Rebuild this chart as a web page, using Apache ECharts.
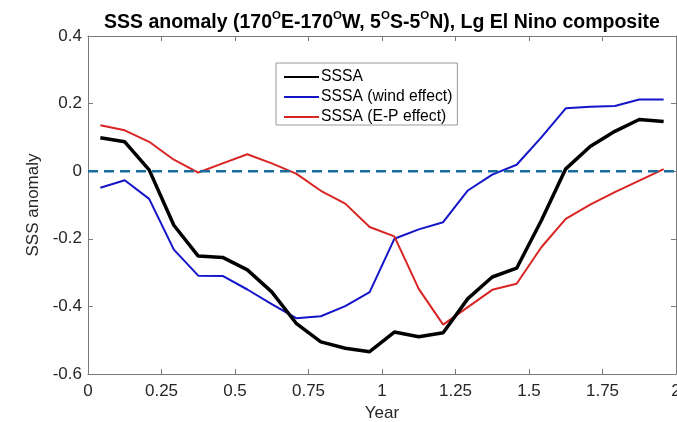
<!DOCTYPE html>
<html>
<head>
<meta charset="utf-8">
<script src="https://cdn.jsdelivr.net/npm/echarts@6/dist/echarts.min.js"></script>
<style>
  html, body { margin: 0; padding: 0; background: #fff; }
  #chart { width: 677px; height: 422px; }
</style>
</head>
<body>
<div id="chart"></div>
<script>
// Monthly composite, time in years since onset (mid-month)
const years = [0.042, 0.125, 0.208, 0.292, 0.375, 0.458, 0.542, 0.625, 0.708, 0.792, 0.875, 0.958,
               1.042, 1.125, 1.208, 1.292, 1.375, 1.458, 1.542, 1.625, 1.708, 1.792, 1.875, 1.958];

// Total SSS anomaly
const sssa = [0.099, 0.087, 0.004, -0.160, -0.251, -0.255, -0.292, -0.357, -0.450, -0.505, -0.524, -0.534,
              -0.476, -0.490, -0.478, -0.377, -0.313, -0.287, -0.146, 0.007, 0.073, 0.118, 0.153, 0.147];

// Contribution from wind-driven processes
const windEffect = [-0.049, -0.027, -0.082, -0.232, -0.309, -0.310, -0.350, -0.393, -0.435, -0.429, -0.399, -0.358,
                    -0.200, -0.172, -0.151, -0.057, -0.010, 0.019, 0.100, 0.186, 0.191, 0.193, 0.212, 0.212];

// Contribution from evaporation minus precipitation
const epEffect = [0.136, 0.121, 0.087, 0.034, -0.004, 0.023, 0.050, 0.023, -0.007, -0.058, -0.096, -0.165,
                  -0.193, -0.348, -0.454, -0.402, -0.351, -0.333, -0.225, -0.141, -0.099, -0.062, -0.028, 0.006];

const seriesNames = ['SSSA', 'SSSA (wind effect)', 'SSSA (E-P effect)'];
const zeroLine = [[0, 0], [2, 0]];

const xRange = { min: 0, max: 2, interval: 0.25 };
const yRange = { min: -0.6, max: 0.4, interval: 0.2 };

const pair = (xs, ys) => xs.map((x, i) => [x, ys[i]]);

const axisGray = '#7a7a7a';
const labelColor = '#262626';
const fontFamily = '"Liberation Sans", Arial, Helvetica, sans-serif';

const chart = echarts.init(document.getElementById('chart'), null, { renderer: 'canvas' });

// Shared style for the boxed axes (ticks point inward on every side)
const boxAxis = (extra) => Object.assign({
  type: 'value',
  axisLine: { show: true, onZero: false, lineStyle: { color: axisGray, width: 1 } },
  axisTick: { show: true, inside: true, length: 5, lineStyle: { color: axisGray } },
  splitLine: { show: false }
}, extra);

chart.setOption({
  animation: false,
  backgroundColor: '#fff',
  title: {
    text: 'SSS anomaly (170{s|O}E-170{s|O}W, 5{s|O}S-5{s|O}N), Lg El Nino composite',
    left: 104,
    top: 5,
    padding: [5, 0, 5, 0],
    textStyle: {
      fontFamily: fontFamily,
      fontSize: 19.5,
      fontWeight: 'bold',
      color: '#000',
      lineHeight: 26,
      rich: {
        s: { fontSize: 11.5, fontWeight: 'bold', fontFamily: fontFamily, color: '#000', verticalAlign: 'top', lineHeight: 14 }
      }
    }
  },
  grid: { left: 88, right: 1, top: 36, bottom: 48, containLabel: false, outerBoundsMode: 'none' },
  legend: {
    data: seriesNames,
    orient: 'vertical',
    left: 276,
    top: 63,
    padding: [6, 5, 0, 7],
    itemWidth: 35,
    itemHeight: 14,
    itemGap: 4,
    borderColor: '#9a9a9a',
    borderWidth: 1,
    backgroundColor: '#fff',
    itemStyle: { opacity: 0 },
    textStyle: { fontFamily: fontFamily, fontSize: 15.7, lineHeight: 16, color: '#000', padding: [0, 0, 0, -3] }
  },
  xAxis: [
    boxAxis(Object.assign({
      position: 'bottom',
      name: 'Year',
      nameLocation: 'middle',
      nameGap: 27,
      nameTextStyle: { fontFamily: fontFamily, fontSize: 17, color: labelColor },
      axisLabel: { show: true, margin: 9, fontFamily: fontFamily, fontSize: 17, color: labelColor,
                   showMinLabel: true, showMaxLabel: true }
    }, xRange)),
    boxAxis(Object.assign({ position: 'top', axisLabel: { show: false } }, xRange))
  ],
  yAxis: [
    boxAxis(Object.assign({
      position: 'left',
      name: 'SSS anomaly',
      nameLocation: 'middle',
      nameGap: 42,
      nameRotate: 90,
      nameTextStyle: { fontFamily: fontFamily, fontSize: 17, color: labelColor },
      axisLabel: { show: true, margin: 6, fontFamily: fontFamily, fontSize: 17, color: labelColor }
    }, yRange)),
    boxAxis(Object.assign({ position: 'right', axisLabel: { show: false } }, yRange))
  ],
  series: [
    {
      name: seriesNames[0], type: 'line', data: pair(years, sssa),
      symbol: 'none', color: '#000', lineStyle: { color: '#000', width: 3.5 }, z: 3
    },
    {
      name: seriesNames[1], type: 'line', data: pair(years, windEffect),
      symbol: 'none', color: '#1414c8', lineStyle: { color: '#1414c8', width: 2 }, z: 2
    },
    {
      name: seriesNames[2], type: 'line', data: pair(years, epEffect),
      symbol: 'none', color: '#d92424', lineStyle: { color: '#d92424', width: 2 }, z: 2
    },
    {
      name: 'zero', type: 'line', data: zeroLine,
      symbol: 'none', silent: true,
      lineStyle: { color: '#1b6c9c', width: 2.5, type: [10, 6] }, z: 4
    }
  ]
});
</script>
</body>
</html>
